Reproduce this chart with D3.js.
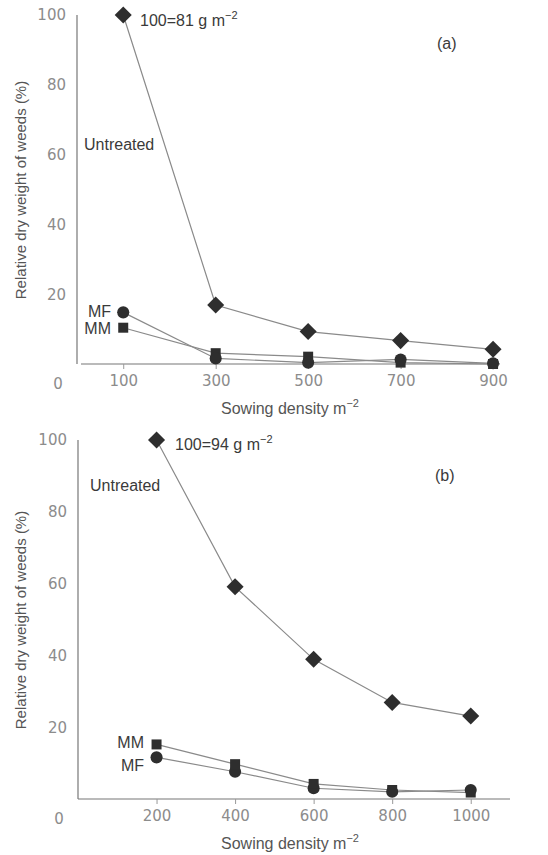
<!DOCTYPE html>
<html><head><meta charset="utf-8">
<script src="https://cdn.jsdelivr.net/npm/d3@7"></script>
<style>body{margin:0;background:#fff}svg{display:block}</style>
</head><body>
<svg id="c" width="548" height="855"></svg>
<script>
// Panel (a)
const densA = [100, 300, 500, 700, 900];
const untreatedA = [100, 16.9, 9.3, 6.7, 4.2];
const mfA = [14.8, 1.6, 0.4, 1.3, 0.2];
const mmA = [10.4, 3.1, 2.1, 0.4, 0.0];
// Panel (b)
const densB = [200, 400, 600, 800, 1000];
const untreatedB = [100, 59.1, 38.9, 26.9, 23.1];
const mmB = [15.2, 9.7, 4.2, 2.5, 1.8];
const mfB = [11.6, 7.6, 3.0, 2.0, 2.5];
const yTicks = [20, 40, 60, 80, 100];

const svg = d3.select("#c");
const lineCol = "#8a8a8a", markCol = "#2e2e2e", tickCol = "#8c8c8c", textCol = "#3a3a3a";
const tickFont = "Verdana, DejaVu Sans, sans-serif";
const txtFont = "Liberation Sans, Arial, sans-serif";

function panel(cfg) {
  const x = d3.scaleLinear().domain(cfg.xDomain).range([cfg.x0, cfg.x1]);
  const y = d3.scaleLinear().domain([0, 100]).range([cfg.y0, cfg.yTop]);
  const g = svg.append("g");
  g.append("line").attr("x1", cfg.x0).attr("x2", cfg.x0).attr("y1", cfg.y0).attr("y2", cfg.yTop)
    .attr("stroke", "#777").attr("stroke-width", 1.2);
  const xa = d3.axisBottom(x).tickValues(cfg.dens).tickSize(5).tickPadding(6).tickFormat(d3.format("d"));
  const xg = g.append("g").attr("transform", `translate(0,${cfg.y0})`).call(xa);
  xg.select(".domain").attr("stroke", "#777").attr("stroke-width", 1.2).attr("d", `M${cfg.axStart},0H${cfg.x1}`);
  xg.selectAll(".tick line").attr("stroke", "#999");
  xg.selectAll(".tick text").attr("fill", tickCol).attr("font-family", tickFont).attr("font-size", 15);
  const ya = d3.axisLeft(y).tickValues(yTicks).tickSize(0).tickPadding(11);
  const yg = g.append("g").attr("transform", `translate(${cfg.x0},0)`).call(ya);
  yg.select(".domain").remove();
  yg.selectAll(".tick text").attr("fill", tickCol).attr("font-family", tickFont).attr("font-size", 15);
  g.append("text").attr("x", cfg.x0 - 19).attr("y", cfg.y0 + 25).attr("text-anchor", "middle")
    .attr("fill", tickCol).attr("font-family", tickFont).attr("font-size", 15).text("0");
  const xt = g.append("text").attr("x", cfg.xTitleX).attr("y", cfg.y0 + 50).attr("text-anchor", "middle")
    .attr("fill", "#555").attr("font-family", txtFont).attr("font-size", 16);
  xt.append("tspan").text("Sowing density m");
  xt.append("tspan").attr("dy", -7).attr("font-size", 11).text("−2");
  g.append("text").attr("transform", `translate(${cfg.yTitleX},${cfg.yTitleY}) rotate(-90)`).attr("text-anchor", "middle")
    .attr("fill", "#555").attr("font-family", txtFont).attr("font-size", 15)
    .text("Relative dry weight of weeds (%)");

  const line = d3.line().x((d, i) => x(cfg.dens[i])).y(d => y(d));
  const series = [
    {v: cfg.s1, sym: cfg.sym1},
    {v: cfg.s2, sym: cfg.sym2},
    {v: cfg.untreated, sym: d3.symbolDiamond2}
  ];
  series.forEach(s => {
    g.append("path").attr("d", line(s.v)).attr("fill", "none").attr("stroke", lineCol).attr("stroke-width", 1.2);
  });
  series.forEach(s => {
    const size = s.sym === d3.symbolDiamond2 ? 185 : (s.sym === d3.symbolCircle ? 115 : 100);
    g.selectAll(null).data(s.v).join("path")
      .attr("transform", (d, i) => `translate(${x(cfg.dens[i])},${y(d)})`)
      .attr("d", d3.symbol().type(s.sym).size(size))
      .attr("fill", markCol);
  });
  cfg.labels.forEach(l => {
    const t = g.append("text").attr("x", l.x).attr("y", l.y).attr("text-anchor", l.anchor || "start")
      .attr("fill", textCol).attr("font-family", txtFont).attr("font-size", 16);
    if (l.sup) {
      t.append("tspan").text(l.text);
      t.append("tspan").attr("dy", -7).attr("font-size", 11).text(l.sup);
    } else t.text(l.text);
  });
}

panel({
  dens: densA, untreated: untreatedA, s1: mmA, s2: mfA, sym1: d3.symbolSquare, sym2: d3.symbolCircle,
  xDomain: [0, 915], x0: 77, x1: 500, axStart: 81, y0: 364, yTop: 15,
  xTitleX: 290, yTitleX: 26, yTitleY: 190,
  labels: [
    {x: 140, y: 26, text: "100=81 g m", sup: "−2"},
    {x: 437, y: 49, text: "(a)"},
    {x: 84, y: 150, text: "Untreated"},
    {x: 111, y: 317, text: "MF", anchor: "end"},
    {x: 111, y: 334, text: "MM", anchor: "end"}
  ]
});

panel({
  dens: densB, untreated: untreatedB, s1: mfB, s2: mmB, sym1: d3.symbolCircle, sym2: d3.symbolSquare,
  xDomain: [0, 1100], x0: 78, x1: 510, axStart: 78, y0: 799, yTop: 440,
  xTitleX: 290, yTitleX: 26, yTitleY: 620,
  labels: [
    {x: 175, y: 450, text: "100=94 g m", sup: "−2"},
    {x: 435, y: 481, text: "(b)"},
    {x: 90, y: 491, text: "Untreated"},
    {x: 144, y: 748, text: "MM", anchor: "end"},
    {x: 144, y: 771, text: "MF", anchor: "end"}
  ]
});
</script>
</body></html>
